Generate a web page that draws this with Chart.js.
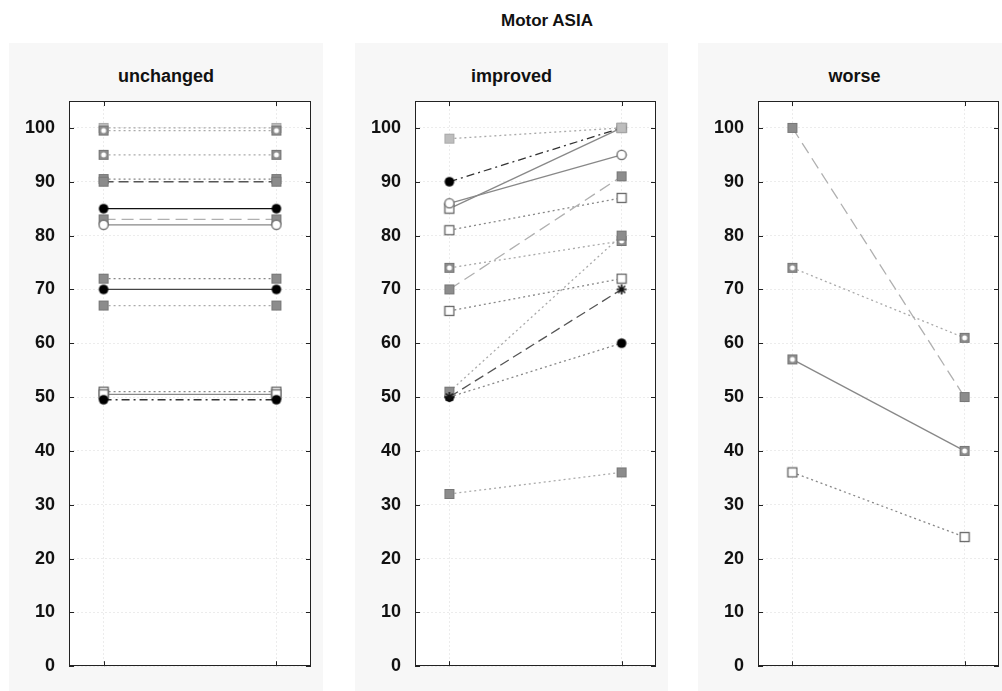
<!DOCTYPE html>
<html>
<head>
<meta charset="utf-8">
<script src="https://cdn.jsdelivr.net/npm/chart.js@4.4.0/dist/chart.umd.min.js"></script>
<style>
  body { margin: 0; background: #fff; font-family: "Liberation Sans", Arial, sans-serif; }
  #wrap { position: relative; width: 1002px; height: 691px; overflow: hidden; }
  .panel { position: absolute; top: 43px; height: 648px; background: #f7f7f7; }
  .panel canvas { position: absolute; left: 0; top: 0; }
  .ptitle { position: absolute; top: 23px; left: 0; width: 100%; text-align: center;
            font-weight: bold; font-size: 18px; color: #111; }
  #main { position: absolute; top: 11px; left: 447px; width: 200px; text-align: center;
          font-weight: bold; font-size: 17px; color: #111; }
</style>
</head>
<body>
<div id="wrap">
  <div id="main">Motor ASIA</div>
  <div class="panel" style="left:9px;width:314px">
    <div class="ptitle">unchanged</div>
    <canvas id="c1" width="314" height="648"></canvas>
  </div>
  <div class="panel" style="left:355px;width:313px">
    <div class="ptitle">improved</div>
    <canvas id="c2" width="313" height="648"></canvas>
  </div>
  <div class="panel" style="left:698px;width:313px">
    <div class="ptitle">worse</div>
    <canvas id="c3" width="313" height="648"></canvas>
  </div>
</div>
<script>
// ---------------- data ----------------
var xCats = [1, 2]; // before / after
var yTicks = [0, 10, 20, 30, 40, 50, 60, 70, 80, 90, 100];

var unchangedBefore = [100, 99.5, 95, 90.5, 90, 85, 83, 82, 72, 70, 67, 51, 50.5, 49.5];
var unchangedAfter  = [100, 99.5, 95, 90.5, 90, 85, 83, 82, 72, 70, 67, 51, 50.5, 49.5];

var improvedBefore = [90, 85, 98, 86, 81, 74, 70, 66, 50, 51, 50, 32];
var improvedAfter  = [100, 100, 100, 95, 87, 79, 91, 72, 60, 80, 70, 36];

var worseBefore = [100, 74, 57, 36];
var worseAfter  = [50, 61, 40, 24];

// ---------------- styles ----------------
var unchangedLine = ["dotL", "dotL", "dotL", "dotM", "dashD", "solidK", "dashL", "solidM", "dotM", "solidD", "dotL", "dotM", "solidM", "dashDot"];
var unchangedMark = ["sqLight", "sqRing", "sqRing", "sqGrey", "sqGrey", "dotBlack", "sqGrey", "circOpen", "sqGrey", "dotBlack", "sqGrey", "sqOpen", "sqOpen", "dotBlack"];

var improvedLine = ["dashDot", "solidM", "dotL", "solidM", "dotM", "dotL", "dashL", "dotM", "dotM", "dotL", "dashD", "dotL"];
var improvedMark = ["dotBlack", "sqOpen", "sqLight", "circOpen", "sqOpen", "sqRing", "sqGrey", "sqOpen", "dotBlack", "sqGrey", "star", "sqGrey"];

var worseLine = ["dashL", "dotL", "solidM", "dotM"];
var worseMark = ["sqGrey", "sqRing", "sqRing", "sqOpen"];

var lineStyles = {
  dotL:    { c: "#aaaaaa", d: [2, 3] },
  dotM:    { c: "#888888", d: [2, 3] },
  dashL:   { c: "#b0b0b0", d: [12, 6] },
  dashD:   { c: "#555555", d: [10, 5] },
  dashDot: { c: "#333333", d: [8, 4, 2, 4] },
  solidK:  { c: "#111111", d: [] },
  solidD:  { c: "#444444", d: [] },
  solidM:  { c: "#888888", d: [] },
};

function makeMarker(kind) {
  var c = document.createElement("canvas");
  c.width = 12;
  c.height = 12;
  var g = c.getContext("2d");
  if (kind === "sqGrey" || kind === "sqLight" || kind === "sqRing") {
    g.fillStyle = kind === "sqLight" ? "#bdbdbd" : "#8c8c8c";
    g.fillRect(1, 1, 10, 10);
    g.strokeStyle = kind === "sqLight" ? "#aaaaaa" : "#777777";
    g.strokeRect(1.5, 1.5, 9, 9);
    if (kind === "sqRing") {
      g.fillStyle = "#ffffff";
      g.beginPath();
      g.arc(6, 6, 2.5, 0, Math.PI * 2);
      g.fill();
    }
  } else if (kind === "sqOpen") {
    g.fillStyle = "#ffffff";
    g.fillRect(1, 1, 10, 10);
    g.strokeStyle = "#666666";
    g.lineWidth = 1.3;
    g.strokeRect(1.5, 1.5, 9, 9);
  } else if (kind === "circOpen") {
    g.fillStyle = "#ffffff";
    g.strokeStyle = "#666666";
    g.lineWidth = 1.3;
    g.beginPath();
    g.arc(6, 6, 4.6, 0, Math.PI * 2);
    g.fill();
    g.stroke();
  } else if (kind === "dotBlack") {
    g.fillStyle = "#000000";
    g.beginPath();
    g.arc(6, 6, 4.8, 0, Math.PI * 2);
    g.fill();
  } else if (kind === "star") {
    g.strokeStyle = "#111111";
    g.lineWidth = 1.6;
    g.beginPath();
    g.moveTo(1, 6); g.lineTo(11, 6);
    g.moveTo(6, 1); g.lineTo(6, 11);
    g.moveTo(2.5, 2.5); g.lineTo(9.5, 9.5);
    g.moveTo(9.5, 2.5); g.lineTo(2.5, 9.5);
    g.stroke();
  }
  return c;
}

var markers = {};
["sqGrey", "sqLight", "sqRing", "sqOpen", "circOpen", "dotBlack", "star"].forEach(function (k) {
  markers[k] = makeMarker(k);
});

// white plot area + frame with inward ticks (matlab look)
var framePlugin = {
  id: "frame",
  beforeDraw: function (chart) {
    var a = chart.chartArea, ctx = chart.ctx;
    ctx.save();
    ctx.fillStyle = "#ffffff";
    ctx.fillRect(a.left, a.top, a.right - a.left, a.bottom - a.top);
    ctx.restore();
  },
  afterDraw: function (chart) {
    var a = chart.chartArea, ctx = chart.ctx;
    var xs = chart.scales.x, ys = chart.scales.y;
    ctx.save();
    ctx.strokeStyle = "#222222";
    ctx.lineWidth = 1;
    ctx.strokeRect(Math.round(a.left) + 0.5, Math.round(a.top) + 0.5,
      Math.round(a.right - a.left) - 1, Math.round(a.bottom - a.top) - 1);
    ctx.beginPath();
    yTicks.forEach(function (v) {
      var y = Math.round(ys.getPixelForValue(v)) + 0.5;
      ctx.moveTo(a.left, y); ctx.lineTo(a.left + 5, y);
      ctx.moveTo(a.right, y); ctx.lineTo(a.right - 5, y);
    });
    xCats.forEach(function (v) {
      var x = Math.round(xs.getPixelForValue(v)) + 0.5;
      ctx.moveTo(x, a.top); ctx.lineTo(x, a.top + 5);
      ctx.moveTo(x, a.bottom); ctx.lineTo(x, a.bottom - 5);
    });
    ctx.stroke();
    ctx.restore();
  },
};

function makePanel(id, before, after, lines, marks) {
  var datasets = before.map(function (b, i) {
    var ls = lineStyles[lines[i]];
    return {
      data: [{ x: xCats[0], y: b }, { x: xCats[1], y: after[i] }],
      showLine: true,
      borderColor: ls.c,
      borderDash: ls.d,
      borderWidth: 1.3,
      pointStyle: markers[marks[i]],
      pointRadius: 5,
    };
  });
  // later rows in the list are drawn on top
  datasets.reverse();

  new Chart(document.getElementById(id), {
    type: "scatter",
    data: { datasets: datasets },
    options: {
      responsive: false,
      animation: false,
      layout: { padding: { top: 58, bottom: 9, left: 0, right: 12 } },
      plugins: { legend: { display: false }, tooltip: { enabled: false } },
      scales: {
        x: {
          type: "linear",
          min: 0.8,
          max: 2.2,
          afterBuildTicks: function (ax) { ax.ticks = xCats.map(function (v) { return { value: v }; }); },
          afterFit: function (s) { s.height = 0; },
          ticks: { display: false },
          grid: { color: "#ececec", drawTicks: false },
          border: { display: false, dash: [2, 2] },
        },
        y: {
          min: 0,
          max: 105,
          afterBuildTicks: function (ax) { ax.ticks = yTicks.map(function (v) { return { value: v }; }); },
          afterFit: function (s) { s.width = 60; },
          ticks: { color: "#111111", padding: 14, font: { size: 18, weight: "bold", family: "'Liberation Sans', Arial, sans-serif" } },
          grid: { color: "#ececec", drawTicks: false },
          border: { display: false, dash: [2, 2] },
        },
      },
    },
    plugins: [framePlugin],
  });
}

makePanel("c1", unchangedBefore, unchangedAfter, unchangedLine, unchangedMark);
makePanel("c2", improvedBefore, improvedAfter, improvedLine, improvedMark);
makePanel("c3", worseBefore, worseAfter, worseLine, worseMark);
</script>
</body>
</html>
